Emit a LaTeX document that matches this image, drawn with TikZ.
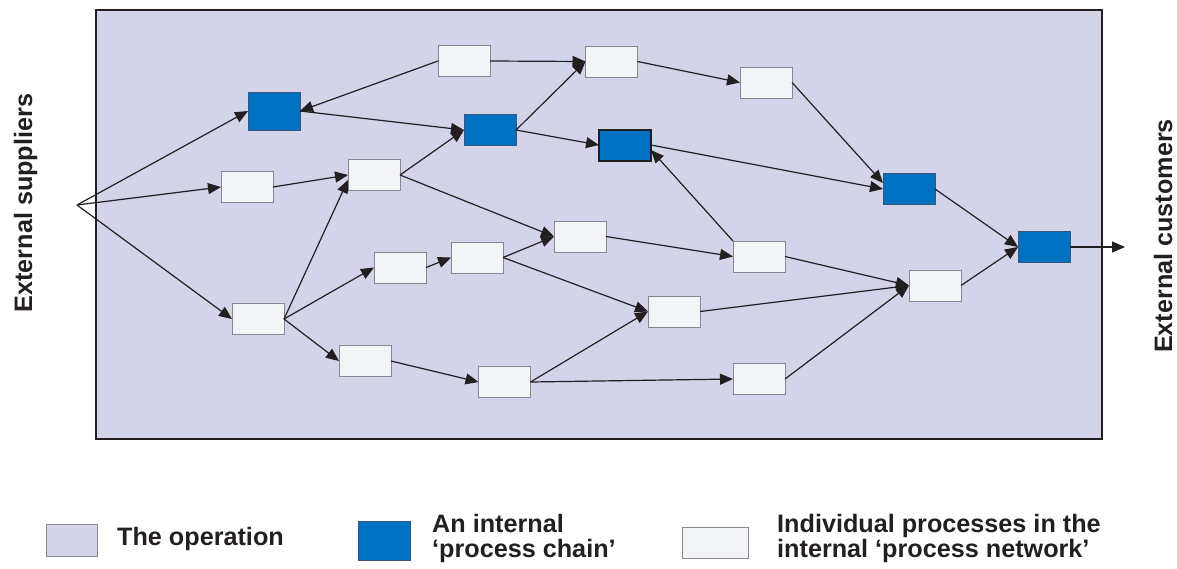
\documentclass[tikz,border=0pt]{standalone}
\usepackage{fontspec}
\setmainfont{Liberation Sans}
\usetikzlibrary{arrows.meta}
\definecolor{opfill}{RGB}{211,211,234}
\definecolor{chainblue}{RGB}{0,112,192}
\definecolor{procfill}{RGB}{243,244,246}
\definecolor{ink}{RGB}{35,31,32}
\definecolor{procedge}{RGB}{135,135,145}
\definecolor{chainedge}{RGB}{55,85,125}

\begin{document}
\begin{tikzpicture}[x=1pt,y=-1pt,
  procbox/.style={draw=procedge, fill=procfill, line width=1pt,
    minimum width=52pt, minimum height=31pt, inner sep=0pt, outer sep=0pt},
  chainbox/.style={procbox, draw=chainedge, fill=chainblue},
  flow/.style={draw=ink, line width=1.2pt, -{Triangle[length=13pt,width=11pt]}},
  lbl/.style={font=\fontsize{25.2}{30}\selectfont\bfseries, text=ink, inner sep=0pt}
]
\useasboundingbox (0,0) rectangle (1177,568);

% the operation
\node[draw=ink, fill=opfill, line width=1.8pt, minimum width=1006pt,
      minimum height=429pt, inner sep=0pt] (operation) at (599,224.5) {};

% processes
\node[chainbox, minimum height=38pt] (A) at (274,111) {};
\node[procbox]  (B) at (464,61) {};
\node[procbox]  (C) at (247,187) {};
\node[procbox]  (D) at (374,175) {};
\node[procbox]  (E) at (611.5,61.5) {};
\node[procbox]  (F) at (766,82.5) {};
\node[chainbox] (G) at (490,130) {};
\node[chainbox, draw=ink, line width=2pt] (H) at (625,145) {};
\node[procbox]  (I) at (580,236.5) {};
\node[chainbox] (J) at (909,189) {};
\node[chainbox] (K) at (1044,247) {};
\node[procbox]  (L) at (935,285.5) {};
\node[procbox]  (M) at (258,319) {};
\node[procbox]  (N) at (400,267.5) {};
\node[procbox]  (O) at (365,361) {};
\node[procbox]  (P) at (477,257.5) {};
\node[procbox]  (Q) at (674,311.5) {};
\node[procbox]  (R) at (759,256.5) {};
\node[procbox]  (S) at (504.5,382) {};
\node[procbox]  (T) at (759,379) {};

\coordinate (src) at (77,205);
\coordinate (out) at (1125,247);

% flows
\draw[flow] (src) -- (A.west);
\draw[flow] (src) -- (C.west);
\draw[flow] (src) -- (M.west);
\draw[flow] (B.west) -- (A.east);
\draw[flow] (A.east) -- (G.west);
\draw[flow] (C.east) -- (D.west);
\draw[flow] (M.east) -- ([yshift=-5pt]D.west);
\draw[flow] (D.east) -- (G.west);
\draw[flow] (B.east) -- (E.west);
\draw[flow] (G.east) -- (E.west);
\draw[flow] (E.east) -- (F.west);
\draw[flow] (G.east) -- (H.west);
\draw[flow] (F.east) -- ([yshift=6pt]J.west);
\draw[flow] (H.east) -- (J.west);
\draw[flow] (R.north west) -- ([yshift=-5pt]H.east);
\draw[flow] (D.east) -- (I.west);
\draw[flow] (N.east) -- (P.west);
\draw[flow] (P.east) -- (I.west);
\draw[flow] (P.east) -- (Q.west);
\draw[flow] (M.east) -- (N.west);
\draw[flow] (M.east) -- (O.west);
\draw[flow] (O.east) -- (S.west);
\draw[flow] (S.east) -- (Q.west);
\draw[flow] (S.east) -- (T.west);
\draw[flow] (I.east) -- (R.west);
\draw[flow] (R.east) -- (L.west);
\draw[flow] (Q.east) -- (L.west);
\draw[flow] (T.east) -- (L.west);
\draw[flow] (J.east) -- (K.west);
\draw[flow] (L.east) -- (K.west);
\draw[flow] (K.east) -- (out);

% side labels
\node[lbl, rotate=90, anchor=base] (suppliers) at (32,203) {External suppliers};
\node[lbl, rotate=90, anchor=base] (customers) at (1172,236) {External customers};

% legend
\node[procbox, fill=opfill, minimum width=51pt, minimum height=32pt] (key1) at (71.5,540) {};
\node[lbl, anchor=base west] (key1t) at (117,545) {The operation};
\node[chainbox, minimum width=52pt, minimum height=39pt] (key2) at (384,540.5) {};
\node[lbl, anchor=base west] (key2a) at (432,532) {An internal};
\node[lbl, anchor=base west] (key2b) at (432,557) {‘process chain’};
\node[procbox, minimum width=66pt, minimum height=31pt] (key3) at (715,542.5) {};
\node[lbl, anchor=base west] (key3a) at (777,532) {Individual processes in the};
\node[lbl, anchor=base west] (key3b) at (777,557) {internal ‘process network’};
\end{tikzpicture}
\end{document}
